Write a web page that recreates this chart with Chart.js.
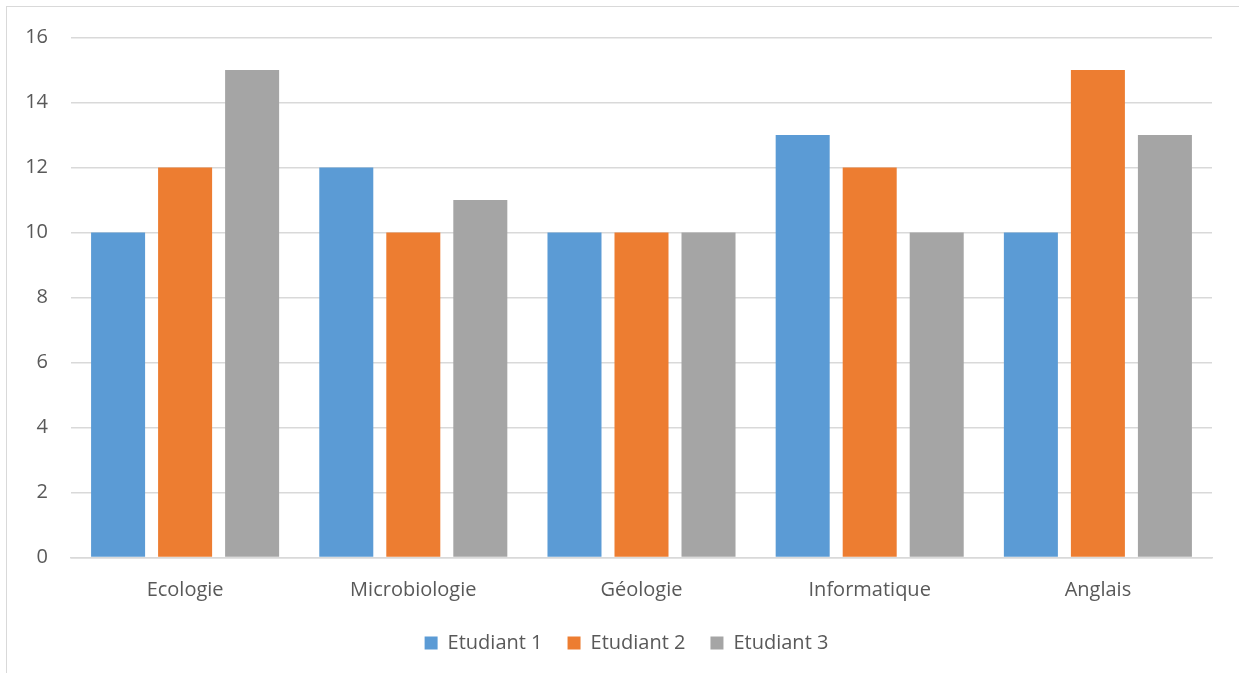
<!DOCTYPE html>
<html><head><meta charset="utf-8">
<script src="https://cdn.jsdelivr.net/npm/chart.js@4.4.0/dist/chart.umd.min.js"></script>
<style>
html,body{margin:0;padding:0;background:#fff;overflow:hidden}
#wrap{position:absolute;left:0;top:0;width:1239px;height:673px}
#frame{position:absolute;left:6px;top:6px;width:1260px;height:700px;border:1.5px solid #d9d9d9;box-sizing:border-box}
canvas{position:absolute;left:0;top:0}
</style></head>
<body><div id="wrap"><div id="frame"></div><canvas id="c" width="1239" height="673"></canvas></div>
<script>
const categories = ["Ecologie","Microbiologie","Géologie","Informatique","Anglais"];
const etudiant1 = [10,12,10,13,10];
const etudiant2 = [12,10,10,12,15];
const etudiant3 = [15,11,10,10,13];
const seriesNames = ["Etudiant 1","Etudiant 2","Etudiant 3"];
const yTicks = [0,2,4,6,8,10,12,14,16];

const FONT = "'Open Sans', sans-serif";
const colors = ["#5B9BD5","#ED7D31","#A5A5A5"];
const vals = [etudiant1, etudiant2, etudiant3];

const legendShift = {
  id: 'legendShift',
  afterLayout(chart) { if (chart.legend) { chart.legend.left += 41; } }
};

new Chart(document.getElementById('c'), {
  type: 'bar',
  data: {
    labels: categories,
    datasets: seriesNames.map((n,i)=>({
      label: n, data: vals[i], backgroundColor: colors[i], borderWidth: 0,
      categoryPercentage: 0.881, barPercentage: 0.806
    }))
  },
  plugins: [legendShift],
  options: {
    responsive: false, animation: false,
    layout: {padding: {top: 37.5, right: 27, bottom: 10, left: 0}},
    plugins: {
      legend: {
        position: 'bottom',
        labels: {boxWidth: 13, boxHeight: 13, color: '#595959', font: {family: FONT, size: 20}, padding: 25}
      },
      tooltip: {enabled: false}
    },
    scales: {
      x: {
        grid: {display: false, drawTicks: false},
        border: {display: true, color: '#d9d9d9', width: 1.5},
        ticks: {color: '#595959', font: {family: FONT, size: 20}, padding: 21},
        afterFit: s => { s.height = 50.5; }
      },
      y: {
        min: 0, max: 16,
        afterBuildTicks: s => { s.ticks = yTicks.map(v=>({value:v})); },
        grid: {color: '#d9d9d9', lineWidth: 1.5, drawTicks: false},
        border: {display: false},
        ticks: {color: '#595959', font: {family: FONT, size: 20}, padding: 23},
        afterFit: s => { s.width = 71; }
      }
    }
  }
});
</script></body></html>
